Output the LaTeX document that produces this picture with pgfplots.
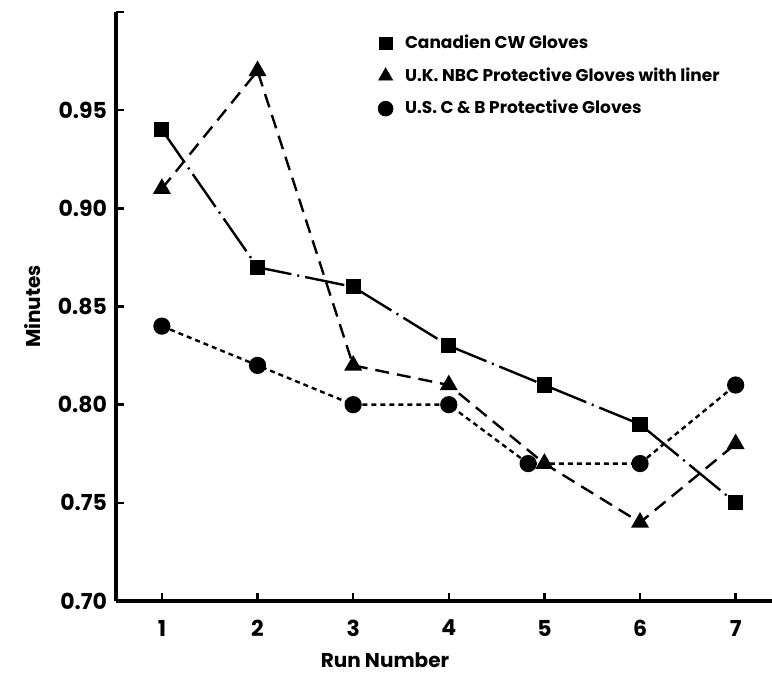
\documentclass[border=0pt]{standalone}
\usepackage{pgfplots}
\pgfplotsset{compat=1.18}
\usepackage{fontspec}
\setmainfont{Poppins}

\begin{document}
\begin{tikzpicture}
\begin{axis}[
    scale only axis,
    width=328pt, height=294.5pt,
    xmin=0.52, xmax=7.38,
    ymin=0.70, ymax=1.00,
    axis x line*=bottom, axis y line*=left,
    axis line style={-, line width=1.7pt},
    xtick={1,...,7},
    ytick={0.70,0.75,0.80,0.85,0.90,0.95},
    extra y ticks={1.0}, extra y tick labels={},
    tick style={line width=1.2pt, black},
    major tick length=4pt,
    tick align=inside,
    /pgf/number format/assume math mode=true,
    yticklabel style={/pgf/number format/fixed, /pgf/number format/fixed zerofill,
        /pgf/number format/precision=2, xshift=-1pt},
    every tick label/.append style={font=\bfseries\fontsize{11}{12}\selectfont},
    xticklabel style={yshift=-6pt},
    xlabel={Run Number},
    ylabel={Minutes},
    every axis x label/.style={at={(rel axis cs:0.41,0)}, yshift=-29.5pt, anchor=center, font=\bfseries\fontsize{10}{12}\selectfont},
    every axis y label/.style={at={(rel axis cs:0,0.5)}, xshift=-41.5pt, rotate=90, anchor=center, font=\bfseries\fontsize{10}{12}\selectfont},
    legend style={at={(rel axis cs:0.39,0.975)}, anchor=north west, draw=none, fill=none,
        font=\bfseries\fontsize{8.5}{10}\selectfont, row sep=4pt, legend cell align=left},
    clip=false,
]
\addlegendimage{only marks, mark=square*, mark size=3.2pt, black}
\addlegendentry{\hspace{4pt}Canadien CW Gloves}
\addlegendimage{only marks, mark=triangle*, mark size=4pt, black}
\addlegendentry{\hspace{4pt}U.K. NBC Protective Gloves with liner}
\addlegendimage{only marks, mark=*, mark size=3.7pt, black}
\addlegendentry{\hspace{4pt}U.S. C \& B Protective Gloves}

% Canadian CW gloves: dash-dot
\addplot[forget plot, black, line width=1.2pt, mark=square*, mark size=3.2pt,
    dash pattern=on 20pt off 3pt on 1pt off 3pt, mark options={solid}] coordinates {
    (1,0.94) (2,0.87) (3,0.86) (4,0.83) (5,0.81) (6,0.79) (7,0.75)
};
% U.K. NBC gloves with liner: long dashes
\addplot[forget plot, black, line width=1.2pt, mark=triangle*, mark size=4pt,
    dash pattern=on 7pt off 4pt, mark options={solid}] coordinates {
    (1,0.91) (2,0.97) (3,0.82) (4,0.81) (5,0.77) (6,0.74) (7,0.78)
};
% U.S. C & B gloves: short dashes
\addplot[forget plot, black, line width=1.2pt, mark=*, mark size=3.7pt,
    dash pattern=on 2.5pt off 2pt, mark options={solid}] coordinates {
    (1,0.84) (2,0.82) (3,0.80) (4,0.80) (4.83,0.77) (6,0.77) (7,0.81)
};
\coordinate (o) at (rel axis cs:0,0);
\coordinate (e) at (rel axis cs:1,1);
\end{axis}
\pgfresetboundingbox
\path ([shift={(-58pt,-37pt)}]o) rectangle ([yshift=6pt]e);
\end{tikzpicture}
\end{document}
